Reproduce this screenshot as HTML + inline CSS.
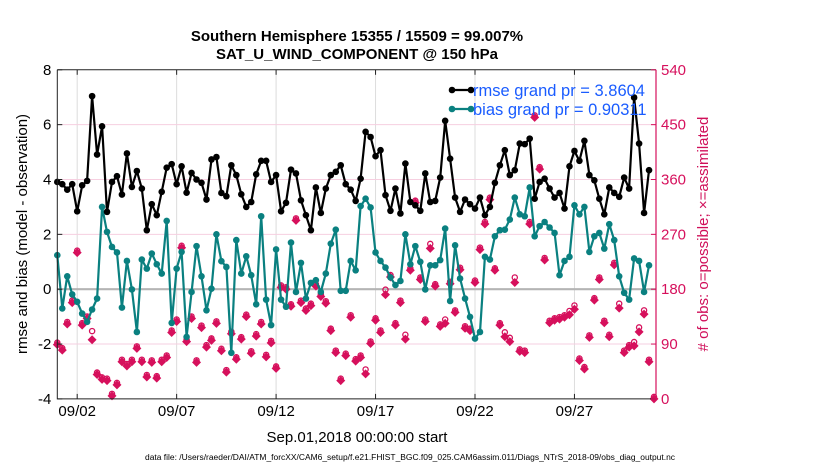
<!DOCTYPE html>
<html><head><meta charset="utf-8">
<style>
html,body{margin:0;padding:0;background:#fff;}
svg{display:block;font-family:"Liberation Sans",Arial,sans-serif;}
</style></head>
<body>
<svg id="chart" width="830" height="470" viewBox="0 0 830 470">
  <rect x="0" y="0" width="830" height="470" fill="#fff"/>
  <g id="grid"></g>
  <g id="marks"></g>
  <g id="axes"></g>
  <text x="357" y="41" text-anchor="middle" font-size="15" font-weight="bold">Southern Hemisphere 15355 / 15509 = 99.007%</text>
  <text x="357" y="59" text-anchor="middle" font-size="15" font-weight="bold">SAT_U_WIND_COMPONENT @ 150 hPa</text>
  <text x="357" y="442" text-anchor="middle" font-size="15">Sep.01,2018 00:00:00 start</text>
  <text x="145" y="460" font-size="8" textLength="530" lengthAdjust="spacingAndGlyphs">data file: /Users/raeder/DAI/ATM_forcXX/CAM6_setup/f.e21.FHIST_BGC.f09_025.CAM6assim.011/Diags_NTrS_2018-09/obs_diag_output.nc</text>
  <text transform="translate(27,234) rotate(-90)" text-anchor="middle" font-size="15">rmse and bias (model - observation)</text>
  <text transform="translate(708,234) rotate(-90)" text-anchor="middle" font-size="15" fill="#d0105a"># of obs: o=possible; ×=assimilated</text>
  <g id="legend"></g>
</svg>
<script>
const dateTicks = [1, 6, 11, 16, 21, 26];
const dateLabels = ["09/02", "09/07", "09/12", "09/17", "09/22", "09/27"];
const leftTicks = [-4, -2, 0, 2, 4, 6, 8];
const rightTicks = [0, 90, 180, 270, 360, 450, 540];
const rmse = [3.91,3.83,3.63,3.83,2.84,3.79,3.95,7.04,4.91,5.94,2.82,3.91,4.12,3.45,4.95,3.73,4.31,3.67,2.15,3.10,2.70,3.55,4.43,4.56,3.83,4.48,3.52,4.24,4.00,3.88,3.27,4.73,4.82,3.51,3.39,4.52,4.16,3.46,3.00,3.18,4.19,
4.68,4.68,3.91,4.16,2.84,3.15,4.36,4.22,3.24,2.70,2.15,3.71,2.78,3.67,4.16,4.28,4.52,3.83,3.63,3.22,4.03,5.74,5.55,4.85,5.07,3.43,2.86,3.67,2.76,4.58,3.18,3.06,2.86,4.22,3.18,3.22,4.07,6.14,4.76,3.34,
2.82,3.27,3.10,2.94,3.34,2.70,3.00,3.88,4.52,5.07,4.16,4.34,5.31,5.29,5.49,3.30,3.91,4.03,3.67,3.34,3.51,2.94,4.48,5.04,4.68,5.41,4.16,3.97,3.30,2.73,3.71,3.51,3.37,4.07,3.67,6.99,5.31,2.78,4.34];
const bias = [1.24,-0.70,0.47,-0.19,-0.46,-0.89,-1.19,-0.74,-0.34,3.00,2.09,1.54,1.34,-0.67,1.03,-0.01,-1.56,1.08,0.75,1.30,0.91,0.57,2.49,-1.23,0.75,1.36,-1.74,-0.10,1.57,0.47,-0.77,0.02,2.00,1.02,0.81,-2.32,1.79,0.57,1.20,0.51,-0.55,
2.66,-0.38,-1.31,1.45,-0.38,-0.64,1.70,-0.10,0.96,-0.34,0.23,0.33,-0.10,0.57,1.66,2.17,-0.06,-0.06,1.03,0.69,3.03,3.30,2.98,1.34,1.03,0.79,0.43,0.15,0.30,2.00,0.91,1.57,1.00,-0.01,0.87,0.87,1.06,2.21,-0.43,1.60,
0.39,-0.34,-1.01,-1.80,-1.56,1.18,1.08,1.93,2.15,2.17,2.54,3.34,2.73,2.66,3.71,1.93,2.30,2.45,2.25,2.05,0.51,1.03,1.18,3.06,2.73,3.00,1.36,1.93,2.05,1.48,2.37,1.79,0.47,-0.13,-0.38,1.12,1.03,-0.10,0.87];
const nAssim = [89,80,123,158,240,121,132,97,40,32,30,5,23,61,54,61,83,61,36,60,34,61,68,109,127,248,94,132,60,117,85,96,124,79,44,107,65,98,135,75,103,
123,69,92,50,183,180,152,293,158,145,153,185,168,157,112,76,30,71,134,62,68,41,91,129,109,171,200,121,158,98,211,322,196,127,247,185,119,124,189,142,
212,116,112,191,245,287,327,211,121,102,94,191,78,76,287,462,377,228,125,129,131,134,138,147,63,49,101,162,196,125,102,220,149,76,85,87,110,139,61,0];
const nPoss = [89,80,123,158,240,121,132,108,40,32,30,5,23,61,54,61,83,61,36,60,34,61,68,109,127,248,94,132,60,117,85,96,124,79,44,107,65,98,135,75,103,
123,69,92,50,183,180,152,293,158,145,153,185,168,157,112,76,30,71,134,62,68,45,91,129,109,176,200,121,158,102,211,322,196,127,251,185,119,127,189,142,
212,116,112,191,245,287,327,211,121,106,97,196,78,76,287,462,377,228,125,129,131,134,141,150,63,49,101,162,196,125,102,220,153,76,85,90,114,142,61,0];

const NS = "http://www.w3.org/2000/svg";
const X0 = 57.3, X1 = 656, T1 = 30.1;
const YT = 69.8, YB = 398.9;
function xs(t){ return X0 + (X1 - X0) * t / T1; }
function yl(v){ return YB - (v + 4) / 12 * (YB - YT); }
function yr(c){ return YB - c / 540 * (YB - YT); }
function mk(tag, attrs, parent){
  const e = document.createElementNS(NS, tag);
  for (const k in attrs) e.setAttribute(k, attrs[k]);
  parent.appendChild(e);
  return e;
}
const grid = document.getElementById('grid');
const marks = document.getElementById('marks');
const axes = document.getElementById('axes');
const legend = document.getElementById('legend');
const RED = "#d6105c", TEAL = "#0a8080";

dateTicks.forEach((t) => {
  const l = mk('line', {x1: xs(t), x2: xs(t), y1: YT, y2: YB, stroke: '#dcdcdc', 'stroke-width': 1}, grid);
  
  
});
rightTicks.forEach((c) => {
  if (c === 0 || c === 540) return;
  const l = mk('line', {x1: X0, x2: X1, y1: yr(c), y2: yr(c), stroke: '#f6cfe0', 'stroke-width': 1}, grid);
  
  
});
const zl = mk('line', {x1: X0, x2: X1, y1: yl(0), y2: yl(0), stroke: '#b4b4b4', 'stroke-width': 2.2}, grid);



nPoss.forEach((c, i) => {
  const p = mk('circle', {cx: xs(i * 0.25), cy: yr(c) - 2, r: 2.6, fill: 'none', stroke: RED, 'stroke-width': 1.3}, marks);
  
  
});
nAssim.forEach((c, i) => {
  const x = xs(i * 0.25), y = yr(c);
  const d = mk('path', {d: `M${x},${y-4.5}L${x+4.5},${y}L${x},${y+4.5}L${x-4.5},${y}Z`, fill: RED}, marks);
  
  
});

function series(vals, color, name){
  const pts = vals.map((v, i) => xs(i * 0.25).toFixed(1) + ',' + yl(v).toFixed(1)).join(' ');
  const pl = mk('polyline', {points: pts, fill: 'none', stroke: color, 'stroke-width': 2.2, 'stroke-linejoin': 'round'}, marks);
  
  
  vals.forEach((v, i) => {
    const c = mk('circle', {cx: xs(i * 0.25), cy: yl(v), r: 3.3, fill: color}, marks);
    
    
  });
}
series(bias, TEAL, 'bias');
series(rmse, '#000', 'rmse');

const frame = mk('path', {d: `M${X0},${YT}L${X0},${YB}L${X1},${YB}M${X0},${YT}L${X1},${YT}`, fill: 'none', stroke: '#222', 'stroke-width': 1}, axes);


const ra = mk('line', {x1: X1, x2: X1, y1: YT, y2: YB, stroke: RED, 'stroke-width': 1.2}, axes);


dateTicks.forEach((t, i) => {
  mk('line', {x1: xs(t), x2: xs(t), y1: YB, y2: YB - 5, stroke: '#222'}, axes);
  mk('line', {x1: xs(t), x2: xs(t), y1: YT, y2: YT + 5, stroke: '#222'}, axes);
  const tx = mk('text', {x: xs(t), y: YB + 17, 'text-anchor': 'middle', 'font-size': 15}, axes);
  tx.textContent = dateLabels[i];
  
  
});
leftTicks.forEach((v) => {
  mk('line', {x1: X0, x2: X0 + 5, y1: yl(v), y2: yl(v), stroke: '#222'}, axes);
  const tx = mk('text', {x: X0 - 6, y: yl(v) + 5, 'text-anchor': 'end', 'font-size': 15}, axes);
  tx.textContent = v;
  
  
});
rightTicks.forEach((c) => {
  mk('line', {x1: X1 - 5, x2: X1, y1: yr(c), y2: yr(c), stroke: RED}, axes);
  const tx = mk('text', {x: X1 + 5, y: yr(c) + 5, 'font-size': 15, fill: RED}, axes);
  tx.textContent = c;
  
  
});

[["rmse grand pr = 3.8604", '#000', 90, 'legend-rmse'], ["bias grand pr = 0.90311", TEAL, 109, 'legend-bias']].forEach((L) => {
  const g = mk('g', {}, legend);
  
  
  mk('line', {x1: 452, x2: 471, y1: L[2], y2: L[2], stroke: L[1], 'stroke-width': 2.2}, g);
  mk('circle', {cx: 452, cy: L[2], r: 3.3, fill: L[1]}, g);
  mk('circle', {cx: 471, cy: L[2], r: 3.3, fill: L[1]}, g);
  const tx = mk('text', {x: 473, y: L[2] + 6, 'font-size': 16.5, fill: '#1a5cff'}, g);
  tx.textContent = L[0];
});
</script>
</body></html>
